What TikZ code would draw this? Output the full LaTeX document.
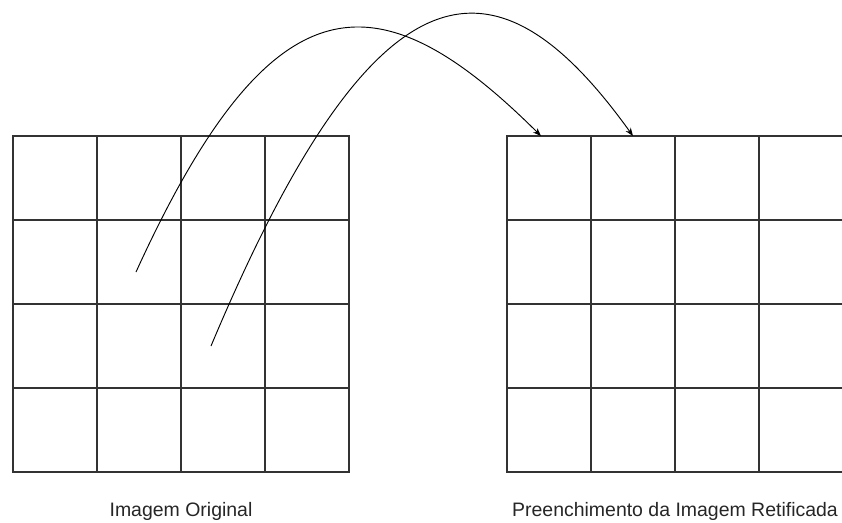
\documentclass[tikz,border=0pt]{standalone}
\usepackage{fontspec}
\setmainfont{Liberation Sans}
\usetikzlibrary{arrows.meta,positioning,calc}

\begin{document}
\begin{tikzpicture}[x=0.75pt,y=-0.75pt,>=Stealth,
 cell/.style={draw=black!80,line width=0.9pt,minimum size=63pt,inner sep=0pt,outer sep=0pt},
 jump/.style={->,line width=0.7pt,shorten >=0pt},
 lbl/.style={anchor=base,font=\fontsize{14.6}{17}\selectfont,text=black!85}]
\useasboundingbox (0,0) rectangle (842,522);
% the two 4x4 grids
\foreach \r in {1,...,4}
 \foreach \c in {1,...,4}{
  \node[cell] (o-\r-\c) at (13+84*\c-42,136+84*\r-42) {};
  \node[cell] (f-\r-\c) at (507+84*\c-42,136+84*\r-42) {};
 }
% where the pixels come from / go to
\coordinate (src1) at (136,272);
\coordinate (src2) at (211,346);
\coordinate (dst1) at ($(f-1-1.north)+(-8,0)$);
\coordinate (dst2) at (f-1-2.north);
\draw[jump] (src1) .. controls (272,-26) and (378,-26) .. (dst1);
\draw[jump] (src2) .. controls (378,-52) and (498,-52) .. (dst2);
\node[lbl] (cap1) at (181,516) {Imagem Original};
\node[lbl] (cap2) at (675,516) {Preenchimento da Imagem Retificada};
\end{tikzpicture}
\end{document}
